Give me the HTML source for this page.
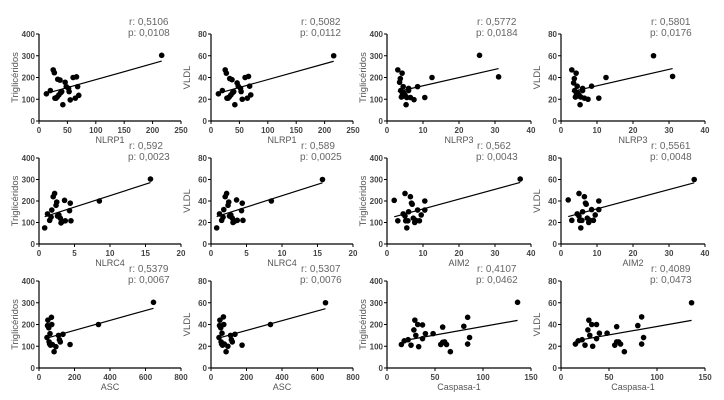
<!DOCTYPE html>
<html><head><meta charset="utf-8">
<style>
html,body{margin:0;padding:0;background:#fff;}
svg{display:block;font-family:"Liberation Sans",sans-serif;}
</style></head>
<body>
<svg id="chart" width="724" height="400" viewBox="0 0 724 400" xmlns="http://www.w3.org/2000/svg"></svg>
<script>
// ---- data ----
const nlrp1X = [13,20,25,27,28,30,32,33,35,37,38,40,42,46,48,52,53,55,60,64,66,68,70,216];
const nlrp1TG = [125,140,235,222,105,105,110,192,120,188,130,135,75,178,158,150,135,97,200,105,203,158,118,302];
const nlrp1VL = [25,28,47,44,21,21,22,39,24,38,26,27,15,35,32,30,27,20,40,21,41,32,24,60];

const nlrp3X = [3,3.5,3.7,3.8,4,4.2,4.3,4.5,4.6,4.8,5,5.3,5.5,6,6,6.5,7.5,8.5,10.5,12.5,25.7,31];
const nlrp3TG = [235,178,195,140,110,220,125,158,130,115,120,75,108,150,140,108,98,158,108,200,302,203];
const nlrp3VL = [47,35,39,28,22,44,25,32,26,23,24,15,22,30,28,21,20,32,21,40,60,41];

const nlrc4X = [0.8,1.2,1.5,1.7,1.8,2,2.2,2.4,2.5,2.6,2.8,3,3.1,3.3,3.6,3.7,4.3,4.4,4.5,8.5,15.7];
const nlrc4TG = [75,140,110,125,158,220,235,180,195,130,135,120,98,105,203,108,155,190,108,200,302];
const nlrc4VL = [15,28,22,25,32,44,47,36,39,26,27,24,20,21,41,22,31,38,22,40,60];

const aim2X = [2,3,4.5,5,5,5.2,5.5,5.8,6,6.5,6.8,7,7.3,7.7,8,8.5,9,9.5,10.5,10.5,37];
const aim2TG = [203,108,140,130,235,108,75,108,150,220,190,185,120,100,110,158,108,135,200,158,302];
const aim2VL = [41,22,28,26,47,22,15,22,30,44,38,37,24,20,22,32,22,27,40,32,60];

const ascX = [45,48,50,55,57,60,62,65,70,72,75,85,95,110,115,120,135,175,335,645];
const ascTG = [140,195,220,185,120,110,158,105,233,200,108,75,98,150,130,120,155,108,200,302];
const ascVL = [28,39,44,37,24,22,32,21,47,40,22,15,20,30,26,24,31,21,40,60];

const caspX = [15,18,22,25,28,29,30,32,33,37,37,40,48,56,58,58,60,62,66,80,84,84,86,136];
const caspTG = [108,125,130,105,175,220,150,200,98,198,135,158,158,108,188,118,120,108,75,192,233,110,140,302];
const caspVL = [22,25,26,21,35,44,30,40,20,40,27,32,32,21,38,24,24,22,15,39,47,22,28,60];

const tgTicks = [0,100,200,300,400];
const vlTicks = [0,20,40,60,80];
const rLabels = ["r: 0,5106","r: 0,5082","r: 0,5772","r: 0,5801","r: 0,592","r: 0,589","r: 0,562","r: 0,5561","r: 0,5379","r: 0,5307","r: 0,4107","r: 0,4089"];
const pLabels = ["p: 0,0108","p: 0,0112","p: 0,0184","p: 0,0176","p: 0,0023","p: 0,0025","p: 0,0043","p: 0,0048","p: 0,0067","p: 0,0076","p: 0,0462","p: 0,0473"];

const panelsSpec = [
 {n:"nlrp1-tg", x:nlrp1X, y:nlrp1TG, xt:[0,50,100,150,200,250], yt:tgTicks, xl:"NLRP1", yl:"Triglicéridos"},
 {n:"nlrp1-vldl", x:nlrp1X, y:nlrp1VL, xt:[0,50,100,150,200,250], yt:vlTicks, xl:"NLRP1", yl:"VLDL"},
 {n:"nlrp3-tg", x:nlrp3X, y:nlrp3TG, xt:[0,10,20,30,40], yt:tgTicks, xl:"NLRP3", yl:"Triglicéridos"},
 {n:"nlrp3-vldl", x:nlrp3X, y:nlrp3VL, xt:[0,10,20,30,40], yt:vlTicks, xl:"NLRP3", yl:"VLDL"},
 {n:"nlrc4-tg", x:nlrc4X, y:nlrc4TG, xt:[0,5,10,15,20], yt:tgTicks, xl:"NLRC4", yl:"Triglicéridos"},
 {n:"nlrc4-vldl", x:nlrc4X, y:nlrc4VL, xt:[0,5,10,15,20], yt:vlTicks, xl:"NLRC4", yl:"VLDL"},
 {n:"aim2-tg", x:aim2X, y:aim2TG, xt:[0,10,20,30,40], yt:tgTicks, xl:"AIM2", yl:"Triglicéridos"},
 {n:"aim2-vldl", x:aim2X, y:aim2VL, xt:[0,10,20,30,40], yt:vlTicks, xl:"AIM2", yl:"VLDL"},
 {n:"asc-tg", x:ascX, y:ascTG, xt:[0,200,400,600,800], yt:tgTicks, xl:"ASC", yl:"Triglicéridos"},
 {n:"asc-vldl", x:ascX, y:ascVL, xt:[0,200,400,600,800], yt:vlTicks, xl:"ASC", yl:"VLDL"},
 {n:"caspasa1-tg", x:caspX, y:caspTG, xt:[0,50,100,150], yt:tgTicks, xl:"Caspasa-1", yl:"Triglicéridos"},
 {n:"caspasa1-vldl", x:caspX, y:caspVL, xt:[0,50,100,150], yt:vlTicks, xl:"Caspasa-1", yl:"VLDL"}
];

// ---- layout ----
const colX0 = [39, 211, 387, 561];
const colX1 = [181, 353, 531, 705];
const rowY0 = [34, 158, 281];
const rowY1 = [121, 244, 368];

const NS = "http://www.w3.org/2000/svg";
const svg = document.getElementById("chart");
function mk(tag, attrs, parent){
  const e = document.createElementNS(NS, tag);
  for (const k in attrs) e.setAttribute(k, attrs[k]);
  (parent||svg).appendChild(e);
  return e;
}

panelsSpec.forEach((p, i) => {
  const col = i % 4, row = Math.floor(i / 4);
  const ax0 = colX0[col], ax1 = colX1[col], ay0 = rowY1[row], ay1 = rowY0[row];
  const xMax = p.xt[p.xt.length-1], yMax = p.yt[p.yt.length-1];
  const sx = v => ax0 + (v / xMax) * (ax1 - ax0);
  const sy = v => ay0 - (v / yMax) * (ay0 - ay1);

  const g = mk("g", {});
  
  

  // axes
  const yAxis = mk("line", {x1:ax0, y1:ay0, x2:ax0, y2:ay1, stroke:"#000", "stroke-width":1.2}, g);
  
  
  const xAxis = mk("line", {x1:ax0, y1:ay0, x2:ax1, y2:ay0, stroke:"#000", "stroke-width":1.2}, g);
  
  

  p.yt.forEach(t => {
    const y = sy(t);
    mk("line", {x1:ax0-3, y1:y, x2:ax0, y2:y, stroke:"#000", "stroke-width":1}, g);
    const tx = mk("text", {x:ax0-4, y:y+3, "font-size":8, "font-weight":"bold", fill:"#444", "text-anchor":"end"}, g);
    tx.textContent = t;
    
    
  });
  p.xt.forEach(t => {
    const x = sx(t);
    mk("line", {x1:x, y1:ay0, x2:x, y2:ay0+3, stroke:"#000", "stroke-width":1}, g);
    const tx = mk("text", {x:x, y:ay0+12, "font-size":8, "font-weight":"bold", fill:"#444", "text-anchor":"middle"}, g);
    tx.textContent = t;
    
    
  });

  const xt = mk("text", {x:(ax0+ax1)/2, y:ay0+22, "font-size":9, fill:"#555", "text-anchor":"middle"}, g);
  xt.textContent = p.xl;
  
  
  const cy = (ay0+ay1)/2, cx = ax0-21;
  const yt = mk("text", {x:cx, y:cy, "font-size":9.5, fill:"#555", "text-anchor":"middle", transform:`rotate(-90 ${cx} ${cy})`}, g);
  yt.textContent = p.yl;
  
  

  // stats
  const rt = mk("text", {x:ax0+90, y:ay1-9, "font-size":10, fill:"#666"}, g);
  rt.textContent = rLabels[i];
  
  
  const pt = mk("text", {x:ax0+89, y:ay1+2, "font-size":10, fill:"#666"}, g);
  pt.textContent = pLabels[i];
  
  

  // regression line
  const n = p.x.length;
  const mx = p.x.reduce((a,b)=>a+b,0)/n, my = p.y.reduce((a,b)=>a+b,0)/n;
  let sxy = 0, sxx = 0;
  for (let k=0;k<n;k++){ sxy += (p.x[k]-mx)*(p.y[k]-my); sxx += (p.x[k]-mx)**2; }
  const b = sxy/sxx, a = my - b*mx;
  const xmin = Math.min(...p.x), xmaxd = Math.max(...p.x);
  const ln = mk("line", {x1:sx(xmin), y1:sy(a+b*xmin), x2:sx(xmaxd), y2:sy(a+b*xmaxd), stroke:"#000", "stroke-width":1.2}, g);
  
  

  // points
  for (let k=0;k<n;k++){
    const c = mk("circle", {cx:sx(p.x[k]), cy:sy(p.y[k]), r:2.8, fill:"#000"}, g);
    
    
  }
});
</script>
</body></html>
